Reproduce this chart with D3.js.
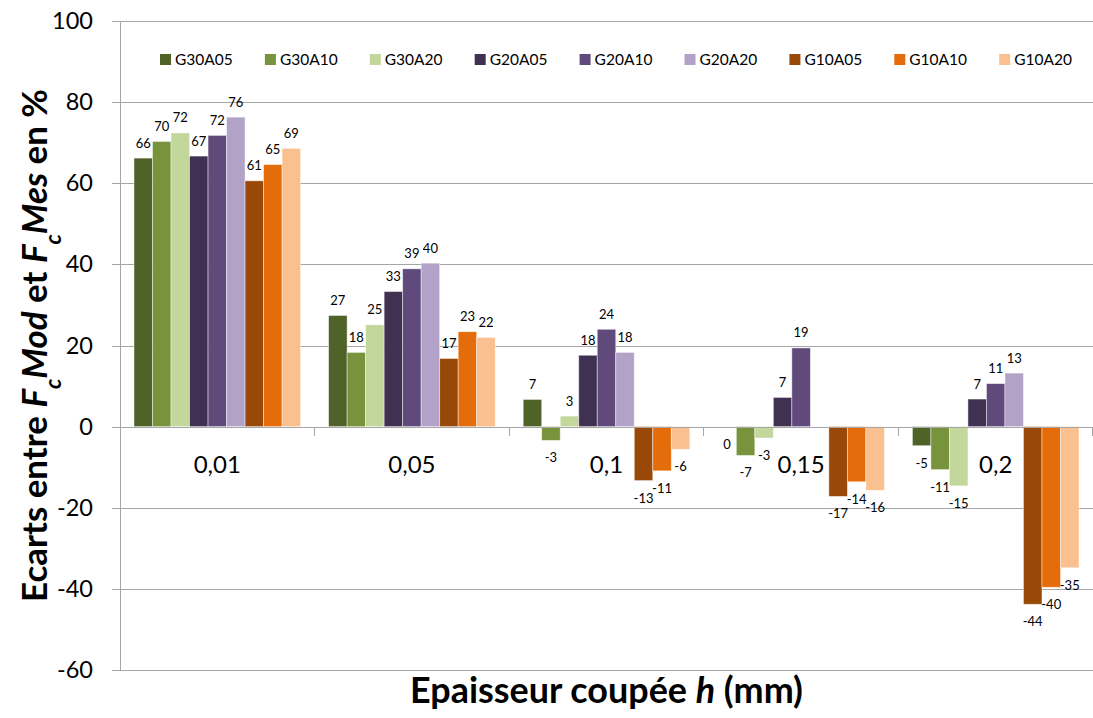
<!DOCTYPE html>
<html>
<head>
<meta charset="utf-8">
<script src="https://cdn.jsdelivr.net/npm/d3@7"></script>
<style>
  html, body { margin: 0; padding: 0; background: #fff; }
  svg { display: block; font-family: Lato, "Open Sans", sans-serif; }
</style>
</head>
<body>
<svg id="chart" width="1093" height="718"></svg>
<script>
// ---------- DATA ----------
const categories = ["0,01", "0,05", "0,1", "0,15", "0,2"];
const seriesNames = ["G30A05", "G30A10", "G30A20", "G20A05", "G20A10", "G20A20", "G10A05", "G10A10", "G10A20"];
const G30A05 = [66.2, 27.4, 6.7, 0, -4.7];
const G30A10 = [70.3, 18.3, -3.4, -7.1, -10.6];
const G30A20 = [72.4, 25.1, 2.6, -2.8, -14.6];
const G20A05 = [66.7, 33.3, 17.6, 7.2, 6.8];
const G20A10 = [71.8, 38.9, 24.0, 19.4, 10.6];
const G20A20 = [76.3, 40.3, 18.3, null, 13.2];
const G10A05 = [60.6, 16.8, -13.3, -17.2, -43.8];
const G10A10 = [64.6, 23.4, -10.9, -13.6, -39.6];
const G10A20 = [68.6, 22.0, -5.6, -15.7, -34.8];
const yTicks = [100, 80, 60, 40, 20, 0, -20, -40, -60];
const colors = ["#4F6228", "#77933C", "#C3D69B", "#403152", "#604A7B", "#B3A2C7", "#984807", "#E46C0A", "#FAC090"];

(function () {
const seriesValues = [G30A05, G30A10, G30A20, G20A05, G20A10, G20A20, G10A05, G10A10, G10A20];
const rows = [];
categories.forEach((c, ci) => {
  seriesNames.forEach((s, si) => {
    rows.push({ cat: c, series: s, value: seriesValues[si][ci], color: colors[si] });
  });
});

// ---------- LAYOUT ----------
const svg = d3.select("#chart");
const pLeft = 120, pRight = 1093, pTop = 21, pBottom = 670;
const gridColor = "#A6A6A6";

const y = d3.scaleLinear().domain([-60, 100]).range([pBottom, pTop]);
const x0 = d3.scaleBand().domain(categories).range([pLeft, pRight]).paddingInner(0).paddingOuter(0);
const bw = x0.bandwidth();
const x1 = d3.scaleBand().domain(seriesNames).range([14, bw - 14]).padding(0);

// gridlines
svg.append("g").selectAll("line").data(yTicks.filter(t => t !== 0)).join("line")
  .attr("x1", pLeft).attr("x2", pRight)
  .attr("y1", d => Math.round(y(d)) + 0.5).attr("y2", d => Math.round(y(d)) + 0.5)
  .attr("stroke", gridColor).attr("stroke-width", 1);

// y axis
const yAxis = d3.axisLeft(y).tickValues(yTicks).tickSize(8).tickPadding(19).tickFormat(d => String(d));
const gy = svg.append("g").attr("transform", `translate(${pLeft},0)`).call(yAxis);
gy.select(".domain").attr("stroke", gridColor).attr("shape-rendering", "crispEdges");
gy.selectAll(".tick line").attr("stroke", gridColor).attr("shape-rendering", "crispEdges");
gy.selectAll(".tick text").attr("font-size", 23.5).attr("fill", "#000").attr("font-family", "Lato, sans-serif");

// bars
const gBars = svg.append("g");
gBars.selectAll("rect").data(rows.filter(d => d.value !== null && d.value !== 0)).join("rect")
  .attr("x", d => x0(d.cat) + x1(d.series))
  .attr("width", x1.bandwidth())
  .attr("y", d => y(Math.max(0, d.value)))
  .attr("height", d => Math.abs(y(d.value) - y(0)))
  .attr("fill", d => d.color)
  .attr("stroke", "rgba(255,255,255,0.55)").attr("stroke-width", 0.8);

// x axis (zero line) with ticks at category boundaries
const y0 = Math.round(y(0)) + 0.5;
svg.append("line").attr("x1", pLeft).attr("x2", pRight).attr("y1", y0).attr("y2", y0)
  .attr("stroke", gridColor).attr("stroke-width", 1);
const boundaries = categories.map(c => x0(c)).concat([pRight - 0.5]);
svg.append("g").selectAll("line").data(boundaries).join("line")
  .attr("x1", d => d).attr("x2", d => d)
  .attr("y1", y0).attr("y2", y0 + 8)
  .attr("stroke", gridColor).attr("shape-rendering", "crispEdges");

// category labels
svg.append("g").selectAll("text").data(categories).join("text")
  .attr("x", d => x0(d) + bw / 2)
  .attr("y", y(0) + 46)
  .attr("text-anchor", "middle")
  .attr("font-size", 24).attr("fill", "#000")
  .text(d => d);

// data labels
const fmt = v => String(Math.round(v));
svg.append("g").selectAll("text").data(rows.filter(d => d.value !== null)).join("text")
  .attr("x", d => x0(d.cat) + x1(d.series) + x1.bandwidth() / 2)
  .attr("y", d => d.value > 0 ? y(d.value) - 10.5 : y(d.value) + 22)
  .attr("text-anchor", "middle")
  .attr("font-size", 13).attr("fill", "#000")
  .text(d => fmt(d.value));

// legend
const legend = svg.append("g");
const lg = legend.selectAll("g").data(seriesNames).join("g")
  .attr("transform", (d, i) => `translate(${160 + i * 104.9},54)`);
lg.append("rect").attr("width", 11).attr("height", 11).attr("fill", (d, i) => colors[i]);
lg.append("text").attr("x", 15).attr("y", 11).attr("font-size", 15.5).attr("fill", "#000").text(d => d);

// axis titles
function fitFont(sel, target, base) {
  sel.attr("font-size", base);
  const w = sel.node().getComputedTextLength();
  sel.attr("font-size", base * target / w);
}
const xt = svg.append("text").attr("x", (pLeft + pRight) / 2).attr("y", 703)
  .attr("text-anchor", "middle").attr("font-weight", "bold").attr("fill", "#000");
xt.append("tspan").text("Epaisseur coupée ");
xt.append("tspan").attr("font-style", "italic").text("h");
xt.append("tspan").text(" (mm)");
fitFont(xt, 393, 30);

const yt = svg.append("text").attr("transform", `translate(47,${(pTop + pBottom) / 2}) rotate(-90)`)
  .attr("text-anchor", "middle").attr("font-weight", "bold").attr("fill", "#000");
yt.append("tspan").text("Ecarts entre ");
yt.append("tspan").attr("font-style", "italic").text("F");
yt.append("tspan").attr("font-style", "italic").attr("font-size", "0.65em").attr("baseline-shift", "sub").text("c");
yt.append("tspan").attr("font-style", "italic").text("Mod");
yt.append("tspan").text(" et ");
yt.append("tspan").attr("font-style", "italic").text("F");
yt.append("tspan").attr("font-style", "italic").attr("font-size", "0.65em").attr("baseline-shift", "sub").text("c");
yt.append("tspan").attr("font-style", "italic").text("Mes");
yt.append("tspan").text(" en %");
fitFont(yt, 513, 30);
})();
</script>
</body>
</html>
